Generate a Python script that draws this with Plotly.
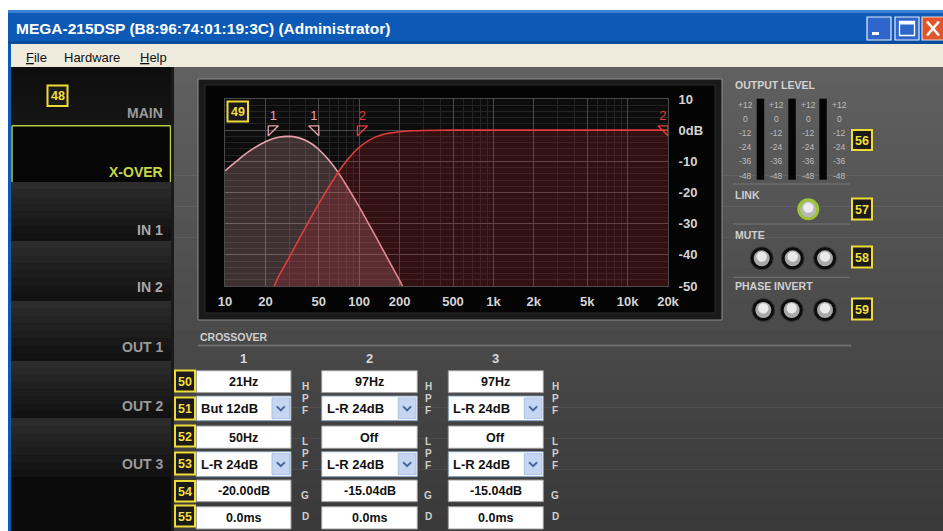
import plotly.graph_objects as go

W, H = 943, 531

# ---------------- data ----------------
freq_ch1 = [10, 12, 15, 20, 25, 30, 35, 40, 45, 50, 60, 70, 80, 100, 120, 150, 180, 200, 210]
gain_ch1 = [-13.1, -10.2, -6.9, -3.7, -2.3, -2.0, -2.4, -3.3, -4.6, -6.2, -9.8, -13.7, -17.6,
            -24.6, -30.7, -38.3, -44.6, -48.2, -50.0]

freq_ch2 = [23.3, 25, 30, 35, 40, 50, 60, 70, 80, 90, 100, 120, 150, 200, 250, 300, 500, 1000, 5000, 20000]
gain_ch2 = [-50.0, -47.1, -40.9, -35.6, -31.0, -23.6, -17.9, -13.4, -10.0, -7.4, -5.5, -3.1, -1.4,
            -0.5, -0.2, -0.1, 0.0, 0.0, 0.0, 0.0]

x_tick_vals = [10, 20, 50, 100, 200, 500, 1000, 2000, 5000, 10000, 20000]
x_tick_text = ["10", "20", "50", "100", "200", "500", "1k", "2k", "5k", "10k", "20k"]
y_tick_vals = [10, 0, -10, -20, -30, -40, -50]
y_tick_text = ["10", "0dB", "-10", "-20", "-30", "-40", "-50"]
x_minor_vals = [30, 40, 60, 70, 80, 90, 300, 400, 600, 700, 800, 900,
                3000, 4000, 6000, 7000, 8000, 9000]

filter_freq = [21, 50, 97, 20000]
filter_kind = ["hpf", "lpf", "hpf", "lpf"]
filter_label = ["1", "1", "2", "2"]

nav_labels = ["MAIN", "X-OVER", "IN 1", "IN 2", "OUT 1", "OUT 2", "OUT 3"]
channel_labels = ["1", "2", "3"]
hpf_freq_text = ["21Hz", "97Hz", "97Hz"]
hpf_type_text = ["But 12dB", "L-R 24dB", "L-R 24dB"]
lpf_freq_text = ["50Hz", "Off", "Off"]
lpf_type_text = ["L-R 24dB", "L-R 24dB", "L-R 24dB"]
gain_text = ["-20.00dB", "-15.04dB", "-15.04dB"]
delay_text = ["0.0ms", "0.0ms", "0.0ms"]
meter_scale = ["+12", "0", "-12", "-24", "-36", "-48"]
menu_items = ["<u>F</u>ile", "Hardware", "<u>H</u>elp"]
title_text = "MEGA-215DSP (B8:96:74:01:19:3C) (Administrator)"

Y_MIN, Y_MAX = -50, 10
X_MIN, X_MAX = 10, 20000

FONT = "Liberation Sans, Arial, Helvetica, sans-serif"
PINK = "#e7a3ab"
RED = "#e23c3c"

shapes = []
ann = []


def X(px):
    return px / W


def Y(py):
    return 1 - py / H


def rect(x0, y0, x1, y1, fill, line=None, lw=0, layer="below"):
    shapes.append(dict(type="rect", xref="paper", yref="paper",
                       x0=X(x0), x1=X(x1), y0=Y(y1), y1=Y(y0),
                       fillcolor=fill, line=dict(color=line or fill, width=lw), layer=layer))


def circle(cx, cy, r, fill, line=None, lw=0, layer="below"):
    shapes.append(dict(type="circle", xref="paper", yref="paper",
                       x0=X(cx - r), x1=X(cx + r), y0=Y(cy + r), y1=Y(cy - r),
                       fillcolor=fill, line=dict(color=line or fill, width=lw), layer=layer))


def line(x0, y0, x1, y1, color, lw=1, layer="below"):
    shapes.append(dict(type="line", xref="paper", yref="paper",
                       x0=X(x0), x1=X(x1), y0=Y(y0), y1=Y(y1),
                       line=dict(color=color, width=lw), layer=layer))


def text(x, y, s, size, color, bold=False, anchor="center", family=FONT):
    ann.append(dict(xref="paper", yref="paper", x=X(x), y=Y(y), text=s, showarrow=False,
                    xanchor=anchor, yanchor="middle", borderpad=0,
                    font=dict(family=family, size=size, color=color,
                              weight="bold" if bold else "normal")))


def badge(x0, y0, x1, y1, num):
    rect(x0, y0, x1, y1, "#1b1b1b", "#eedb3a", 2, layer="above")
    text((x0 + x1) / 2, (y0 + y1) / 2 + 0.5, num, 12.5, "#f3df3c", bold=True)


# ---------------- window chrome ----------------
rect(0, 0, W, H, "#ffffff")
# title bar
rect(8, 10, W, 44, "#0c5ab6")
rect(8, 10, W, 13, "#3b82d6")
rect(8, 41, W, 44, "#0a4c9c")
text(15, 28.5, title_text, 15.5, "#ffffff", bold=True, anchor="left")
# buttons
rect(867, 17, 891, 40, "#2f66cc", "#e4ecfa", 1.2)
rect(872, 32, 879, 35, "#ffffff")
rect(895, 17, 919, 40, "#2f66cc", "#e4ecfa", 1.2)
rect(899.5, 21.5, 914.5, 35.5, "#2f66cc", "#ffffff", 1.3)
rect(899.5, 21.5, 914.5, 24.5, "#ffffff")
rect(922, 17, 946, 40, "#e0552c", "#f4d8cc", 1.2)
line(927, 21.5, 939, 35.5, "#ffffff", 2.6)
line(927, 35.5, 939, 21.5, "#ffffff", 2.6)
# menu bar
rect(8, 44, W, 67, "#eeebdd")
menu_x = [25, 63, 139]
for mx, mi in zip(menu_x, menu_items):
    text(mx, 57, mi, 13, "#111111", anchor="left")
# left window border
rect(8, 44, 11, H, "#0c5ab6")

# ---------------- metal background ----------------
n_bands = 30
top, bot = 67, H
for i in range(n_bands):
    t = i / (n_bands - 1)
    c = int(96 - 38 * t)
    y0 = top + (bot - top) * i / n_bands
    y1 = top + (bot - top) * (i + 1) / n_bands + 0.6
    rect(173, y0, W, y1, f"rgb({c},{c},{c})")

# ---------------- sidebar ----------------
rect(11, 67, 171, H, "#0b0b0b")
nav_tops = [67, 125.7, 182, 240.7, 300.7, 360.7, 418, 477.7]
nav_text_y = [113, 171.7, 230, 287, 347, 406, 464]
for i, lab in enumerate(nav_labels):
    y0, y1 = nav_tops[i], nav_tops[i + 1]
    if lab == "X-OVER":
        rect(11, y0, 171, y1, "#070707")
        line(12, y0, 170.5, y0, "#b9cc3c", 1.5)
        line(12, y0, 12, y1, "#b9cc3c", 1.5)
        line(170.5, y0, 170.5, y1, "#b9cc3c", 1.5)
        col = "#c6d646"
    else:
        if i == 0:
            c0, c1 = 14, 22
        else:
            c0, c1 = 44, 18
        nb = 8
        for k in range(nb):
            c = int(c0 + (c1 - c0) * k / (nb - 1))
            rect(11, y0 + (y1 - y0) * k / nb, 171, y0 + (y1 - y0) * (k + 1) / nb + 0.5,
                 f"rgb({c},{c},{c})")
        line(11, y1, 171, y1, "#0a0a0a", 1)
        col = "#9a9a9a" if i == 0 or i >= 4 else "#a9a9a9"
    text(164, nav_text_y[i], lab, 14, col, bold=True, anchor="right")
rect(171, 67, 174, H, "#1a1a1a")
badge(47.5, 85.5, 67.5, 106, "48")

# ---------------- graph panel ----------------
rect(198, 79, 722, 320, "#1a1a1a", "#8c8c8c", 1)
rect(205, 85, 715, 313, "#040404", "#2c2c2c", 1)
rect(225, 99, 668, 286, "#0d0d0d")
badge(227.5, 101.5, 248, 121.5, "49")

# ---------------- curves ----------------
traces = []
traces.append(go.Scatter(x=[freq_ch1[0], freq_ch1[-1]], y=[Y_MIN, Y_MIN], mode="lines",
                         line=dict(width=0, color="rgba(0,0,0,0)"), hoverinfo="skip", showlegend=False))
traces.append(go.Scatter(x=freq_ch1, y=gain_ch1, mode="lines", fill="tonexty",
                         fillcolor="rgba(225,165,172,0.24)",
                         line=dict(color=PINK, width=1.6, shape="spline", smoothing=0.8),
                         hoverinfo="skip", showlegend=False))
traces.append(go.Scatter(x=[freq_ch2[0], freq_ch2[-1]], y=[Y_MIN, Y_MIN], mode="lines",
                         line=dict(width=0, color="rgba(0,0,0,0)"), hoverinfo="skip", showlegend=False))
traces.append(go.Scatter(x=freq_ch2, y=gain_ch2, mode="lines", fill="tonexty",
                         fillcolor="rgba(205,35,45,0.20)",
                         line=dict(color=RED, width=1.6, shape="spline", smoothing=0.8),
                         hoverinfo="skip", showlegend=False))

# filter markers (triangles + channel numbers)
tri_w = 1.19
tri_top, tri_bot, lab_y = 1.4, -1.8, 4.2
for f, kind, lab in zip(filter_freq, filter_kind, filter_label):
    col = PINK if lab == "1" else RED
    if kind == "hpf":
        xs = [f, f * tri_w, f, f]
        xc = f * 1.09
    else:
        xs = [f / tri_w, f, f, f / tri_w]
        xc = f / 1.09
    ys = [tri_top, tri_top, tri_bot, tri_top]
    traces.append(go.Scatter(x=xs, y=ys, mode="lines", line=dict(color=col, width=1.3),
                             hoverinfo="skip", showlegend=False))
    traces.append(go.Scatter(x=[xc], y=[lab_y], mode="text", text=[lab],
                             textfont=dict(family=FONT, size=13, color=col),
                             hoverinfo="skip", showlegend=False, cliponaxis=False))

fig = go.Figure(traces)

# ---------------- right panel ----------------
text(734, 85, "OUTPUT LEVEL", 10.5, "#d2d2d2", bold=True, anchor="left")
meter_cols = [745, 776.7, 808.3, 839.3]
meter_rows = [104.7, 119, 133, 147.3, 161.3, 176.3]
for mx in meter_cols:
    for my, s in zip(meter_rows, meter_scale):
        text(mx, my, s, 8.5, "#bdbdbd", anchor="center")
for bx in [756.7, 788.3, 819.3]:
    rect(bx, 98.7, bx + 7.5, 179.7, "#050505")
line(733, 184, 850, 184, "#767676", 1)
text(734, 195, "LINK", 10.5, "#cfcfcf", bold=True, anchor="left")
circle(808.3, 209.3, 11, "#9dc435")
circle(808.3, 209.3, 8, "#b8b8b8")
circle(808.3, 207.6, 5.2, "#ececec")
line(733, 224, 850, 224, "#767676", 1)
text(734, 235, "MUTE", 10.5, "#cfcfcf", bold=True, anchor="left")
for cx in [761.7, 792.7, 825]:
    circle(cx, 258.3, 11.5, "#0d0d0d", "#3a3a3a", 1)
    circle(cx, 258.3, 8, "#a9a9a9")
    circle(cx, 256.6, 5.2, "#e9e9e9")
line(733, 277.3, 850, 277.3, "#767676", 1)
text(734, 286, "PHASE INVERT", 10.5, "#cfcfcf", bold=True, anchor="left")
for cx in [763.3, 791.7, 825]:
    circle(cx, 310, 11.5, "#0d0d0d", "#3a3a3a", 1)
    circle(cx, 310, 8, "#a9a9a9")
    circle(cx, 308.3, 5.2, "#e9e9e9")
badge(852, 130, 872, 150, "56")
badge(852, 198.5, 872, 219.5, "57")
badge(852, 246.5, 872, 267.5, "58")
badge(852, 298.5, 872, 319.5, "59")

# ---------------- crossover table ----------------
text(199, 336.7, "CROSSOVER", 10.5, "#cfcfcf", bold=True, anchor="left")
rect(198, 344.5, 851, 346.5, "#6e6e6e")
col_x0 = [196.3, 321.7, 448.3]
col_x1 = [291, 417.3, 543.3]
side_x = [305, 428.3, 555]
rows = [(370.7, 392.7), (396, 420.7), (426, 448.3), (451.7, 476.7), (480, 501.7), (506.7, 529)]
for c in range(3):
    x0, x1 = col_x0[c], col_x1[c]
    xm = (x0 + x1) / 2
    text(xm, 358.3, channel_labels[c], 13, "#d8d8d8", bold=True)
    row_vals = [hpf_freq_text[c], hpf_type_text[c], lpf_freq_text[c],
                lpf_type_text[c], gain_text[c], delay_text[c]]
    for r, (ya, yb) in enumerate(rows):
        if r in (1, 3):
            rect(x0, ya, x1, yb, "#ffffff", "#7f9db9", 1)
            rect(x1 - 19, ya + 2, x1 - 1.5, yb - 2, "#c4d6f2", "#aac0e4", 1)
            bx = x1 - 10.2
            by = (ya + yb) / 2
            shapes.append(dict(type="path", xref="paper", yref="paper",
                               path=f"M {X(bx-4)},{Y(by-2)} L {X(bx)},{Y(by+2)} L {X(bx+4)},{Y(by-2)}",
                               line=dict(color="#4a6796", width=2), layer="below"))
            text(x0 + 4, (ya + yb) / 2 + 0.5, row_vals[r], 13, "#111111", bold=True, anchor="left")
        else:
            rect(x0, ya, x1, yb, "#ffffff", "#9a9a9a", 1)
            text(xm, (ya + yb) / 2 + 0.5, row_vals[r], 12.5, "#111111", bold=True)
    sx = side_x[c]
    for s, yy in zip(["H", "P", "F", "L", "P", "F", "G", "D"],
                     [386.7, 398, 410, 441.7, 453.3, 465, 495, 516]):
        text(sx, yy, s, 10, "#cfcfcf", bold=True)

badge(175, 370.5, 195, 391.5, "50")
badge(175, 397.5, 195, 419.5, "51")
badge(175, 425.5, 195, 446.5, "52")
badge(175, 452.5, 195, 474.5, "53")
badge(175, 481, 195, 501.5, "54")
badge(175, 505.5, 195, 526.5, "55")

# ---------------- layout ----------------
fig.update_layout(
    width=W, height=H, autosize=False,
    margin=dict(l=0, r=0, t=0, b=0, pad=0, autoexpand=False),
    paper_bgcolor="#ffffff", plot_bgcolor="rgba(0,0,0,0)",
    showlegend=False, hovermode=False,
    shapes=shapes, annotations=ann,
    xaxis=dict(type="log", domain=[X(225), X(668)], automargin=False,
               range=[1, 4.30103], tickvals=x_tick_vals, ticktext=x_tick_text,
               showgrid=True, gridcolor="#4a4a4a", gridwidth=1,
               minor=dict(tickvals=x_minor_vals, showgrid=True, gridcolor="#242424", gridwidth=1),
               showline=True, linecolor="#4a4a4a", mirror=True, zeroline=False,
               ticks="", ticklabelstandoff=3,
               tickfont=dict(family=FONT, size=13, color="#d4d4d4", weight="bold"),
               fixedrange=True),
    yaxis=dict(domain=[Y(286), Y(99)], range=[Y_MIN, Y_MAX], side="right", automargin=False,
               tickvals=y_tick_vals, ticktext=y_tick_text,
               showgrid=True, gridcolor="#4a4a4a", gridwidth=1,
               minor=dict(dtick=2, showgrid=True, gridcolor="#222222", gridwidth=1),
               showline=True, linecolor="#4a4a4a", mirror=True, zeroline=False,
               ticks="", ticklabelstandoff=7,
               tickfont=dict(family=FONT, size=13, color="#d4d4d4", weight="bold"),
               fixedrange=True),
)

fig.write_html("out.html", config={"displayModeBar": False},
               post_script="document.body.style.margin='0';document.documentElement.style.overflow='hidden';")
